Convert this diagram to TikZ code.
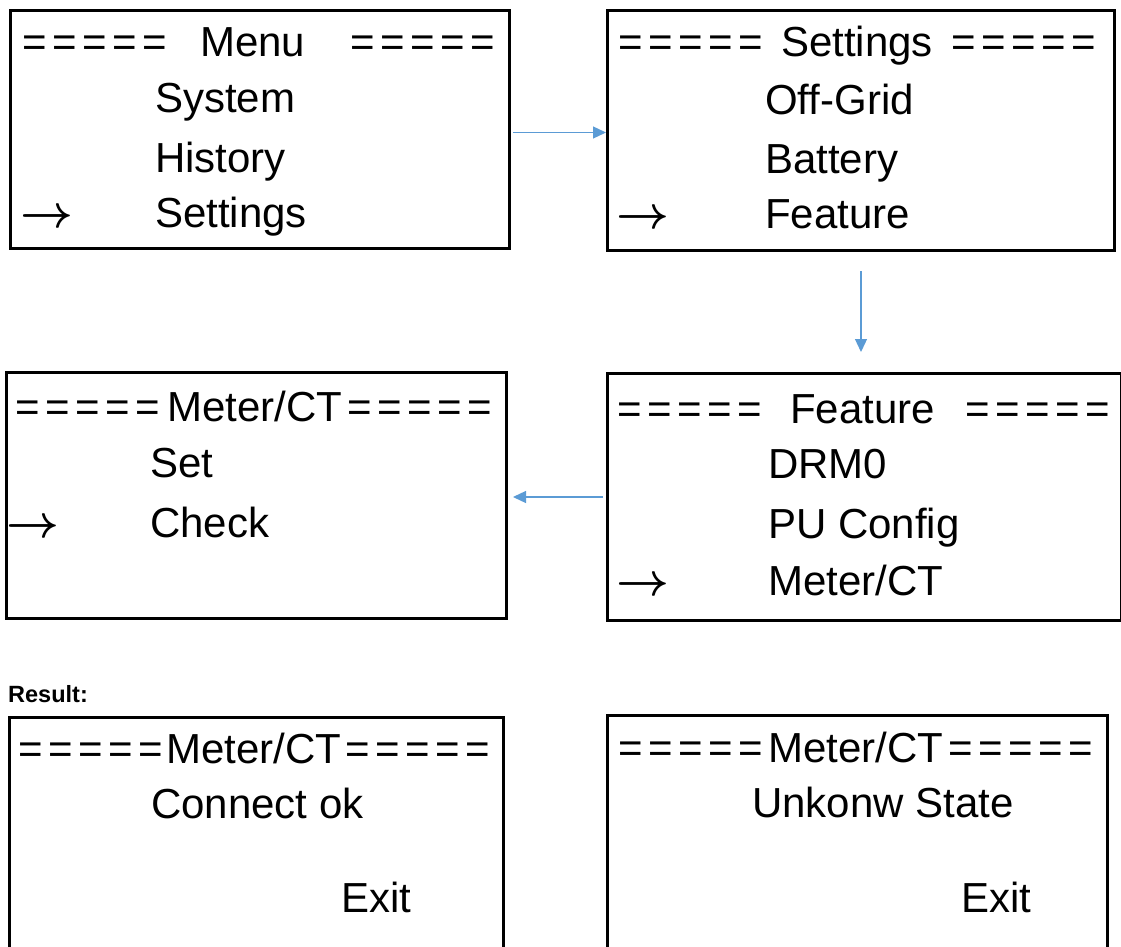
\RequirePackage{fix-cm}
\documentclass[tikz,border=0pt]{standalone}
\usepackage{fontspec}
\setmainfont{Liberation Sans}
\usetikzlibrary{arrows.meta}
\definecolor{flow}{RGB}{91,155,213}
\newcommand{\eqfive}{=\kern5.6pt=\kern5.6pt=\kern5.6pt=\kern5.6pt=}
\newcommand{\selarr}{{\fontsize{46pt}{50pt}\selectfont\boldmath$\rightarrow$}}
\tikzset{
  screen/.style={draw=black, line width=3pt, inner sep=0pt, anchor=north west},
  lcd/.style={anchor=base west, inner sep=0pt, font=\fontsize{42pt}{50pt}\selectfont},
  flowarrow/.style={draw=flow, line width=1.3pt, -{Triangle[length=13pt,width=12pt]}},
  note/.style={anchor=base west, inner sep=0pt, font=\fontsize{23.5pt}{26pt}\selectfont\bfseries}
}
\begin{document}
\begin{tikzpicture}[x=1pt,y=-1pt]
\useasboundingbox (0,0) rectangle (1121,947);
% screens
\node[screen, minimum width=499pt, minimum height=238pt] (b1) at (9,9) {};
\node[screen, minimum width=507pt, minimum height=240pt] (b2) at (606,9) {};
\node[screen, minimum width=500pt, minimum height=246pt] (b3) at (5,371) {};
\node[screen, minimum width=514pt, minimum height=247pt] (b4) at (606,372) {};
\node[screen, minimum width=494pt, minimum height=247pt] (b5) at (8,716) {};
\node[screen, minimum width=500pt, minimum height=247pt] (b6) at (606,714) {};
% box 1
\node[lcd] (b1eqL) at (22,57) {\eqfive};
\node[lcd] (b1t) at (200,57) {Menu};
\node[lcd] (b1eqR) at (350,57) {\eqfive};
\node[lcd] (b1a) at (155,113) {System};
\node[lcd] (b1b) at (155,172) {History};
\node[lcd] (b1c) at (155,227) {Settings};
\node[lcd] (b1s) at (20,227) {\selarr};
% box 2
\node[lcd] (b2eqL) at (618,57) {\eqfive};
\node[lcd] (b2t) at (781,57) {Settings};
\node[lcd] (b2eqR) at (951,57) {\eqfive};
\node[lcd] (b2a) at (765,114) {Off-Grid};
\node[lcd] (b2b) at (765,173) {Battery};
\node[lcd] (b2c) at (765,228) {Feature};
\node[lcd] (b2s) at (616,228) {\selarr};
% box 3
\node[lcd] (b3eqL) at (15,421) {\eqfive};
\node[lcd] (b3t) at (167,421) {Meter/CT};
\node[lcd] (b3eqR) at (347,421) {\eqfive};
\node[lcd] (b3a) at (150,477) {Set};
\node[lcd] (b3b) at (150,537) {Check};
\node[lcd] (b3s) at (6,537) {\selarr};
% box 4
\node[lcd] (b4eqL) at (617,423) {\eqfive};
\node[lcd] (b4t) at (790,423) {Feature};
\node[lcd] (b4eqR) at (965,423) {\eqfive};
\node[lcd] (b4a) at (768,478) {DRM0};
\node[lcd] (b4b) at (768,538) {PU Config};
\node[lcd] (b4c) at (768,595) {Meter/CT};
\node[lcd] (b4s) at (616,595) {\selarr};
% result
\node[note] (res) at (8,702) {Result:};
% box 5
\node[lcd] (b5eqL) at (18,763) {\eqfive};
\node[lcd] (b5t) at (166,763) {Meter/CT};
\node[lcd] (b5eqR) at (345,763) {\eqfive};
\node[lcd] (b5a) at (151,818) {Connect ok};
\node[lcd] (b5b) at (341,912) {Exit};
% box 6
\node[lcd] (b6eqL) at (618,762) {\eqfive};
\node[lcd] (b6t) at (768,762) {Meter/CT};
\node[lcd] (b6eqR) at (948,762) {\eqfive};
\node[lcd] (b6a) at (752,817) {Unkonw State};
\node[lcd] (b6b) at (961,912) {Exit};
% connectors
\coordinate (a1s) at ([xshift=2pt,yshift=-3pt]b1.east);
\draw[flowarrow] (a1s) -- (a1s -| b2.west);
\draw[flowarrow, shorten <=19pt, shorten >=20pt] (b2.south) -- (b2.south |- b4.north);
\draw[flowarrow, shorten <=3pt, shorten >=5pt] (b4.west) -- (b4.west -| b3.east);
\end{tikzpicture}
\end{document}
